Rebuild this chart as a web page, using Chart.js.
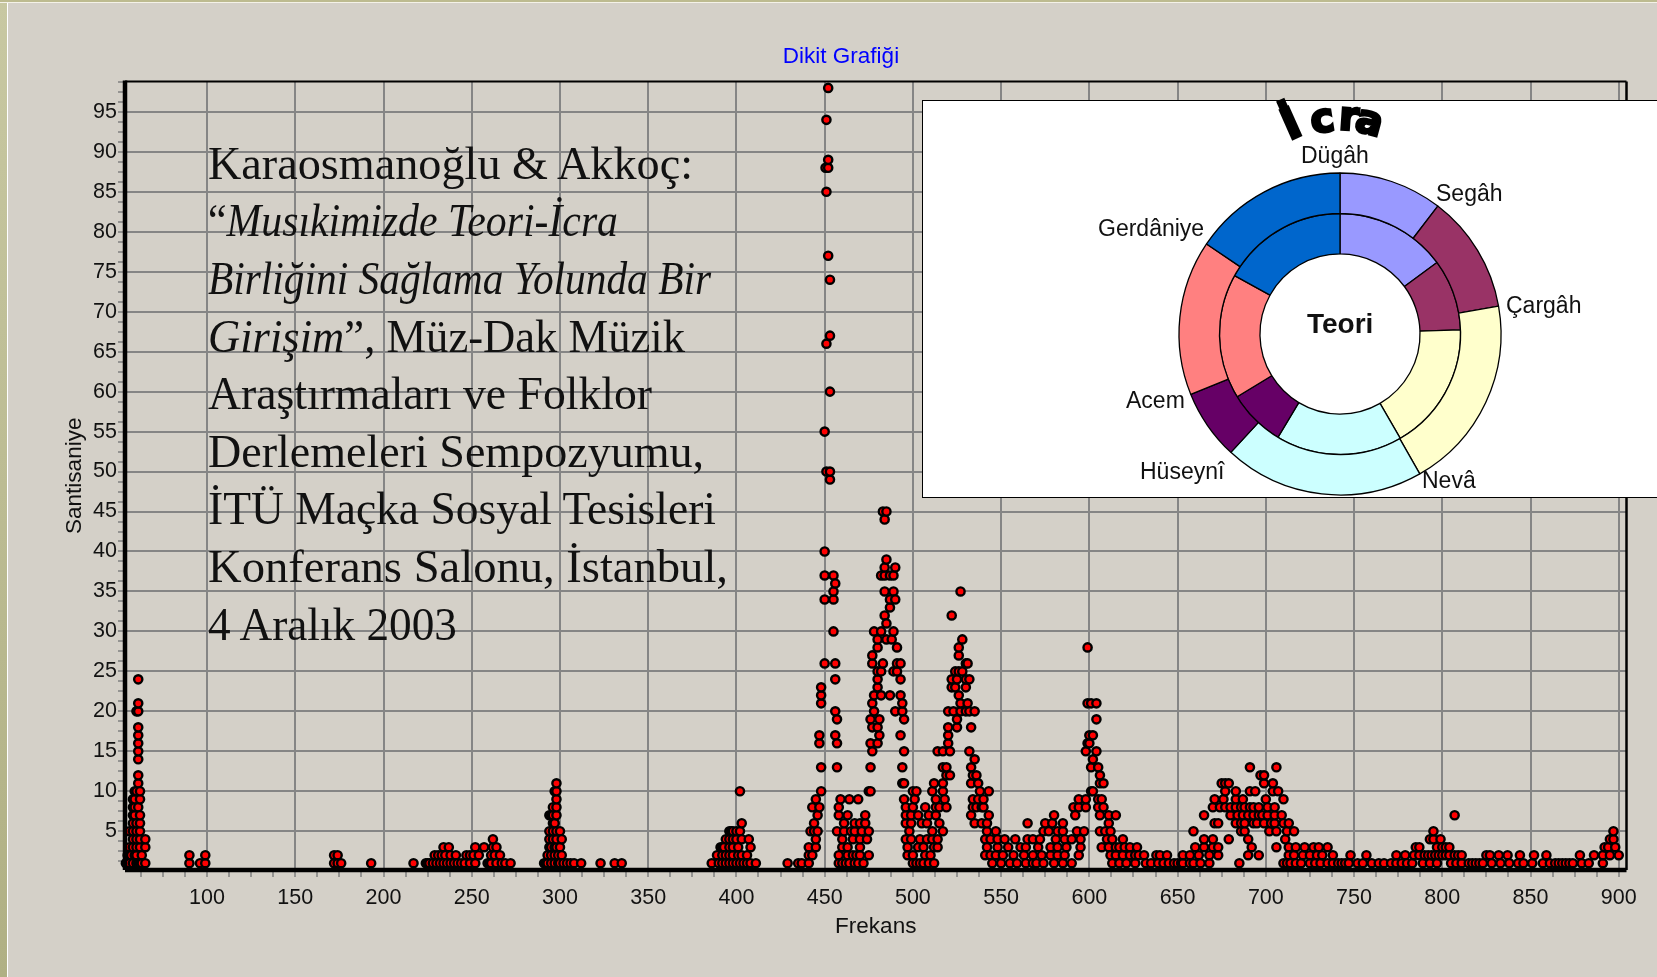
<!DOCTYPE html>
<html lang="tr">
<head>
<meta charset="utf-8">
<title>Dikit Grafiği</title>
<script src="https://cdn.jsdelivr.net/npm/chart.js@4"></script>
<style>
  html,body{margin:0;padding:0;width:1657px;height:977px;overflow:hidden;background:#D4D0C8;}
  #stage{position:relative;width:1657px;height:977px;overflow:hidden;}
  #stripL{position:absolute;left:0;top:0;width:6.5px;height:977px;background:linear-gradient(#c8c8a2,#b0b084);border-right:1px solid #fff;}
  #stripT{position:absolute;left:0;top:0;width:1657px;height:2px;background:#bdbb90;border-bottom:1px solid #f4f2e8;}
  #main{position:absolute;left:0;top:0;}
  .line{position:absolute;left:208px;white-space:nowrap;font:46px/58px "Liberation Serif",serif;color:#111;transform-origin:0 50%;}
  #inset{position:absolute;left:922px;top:100px;width:740px;height:396px;background:#fff;border:1.5px solid #000;}
  #ring{position:absolute;left:1169.5px;top:164px;}
  .lbl{position:absolute;font:23px/26px "Liberation Sans",sans-serif;color:#111;white-space:nowrap;transform:translateY(-50%);}
  .arc{position:absolute;font:bold 40px/40px "DejaVu Sans",sans-serif;color:#000;-webkit-text-stroke:2.6px #000;transform-origin:50% 50%;}
</style>
</head>
<body>
<div id="stage">
  <canvas id="main" width="1657" height="977"></canvas>
  <div id="stripL"></div><div id="stripT"></div>
  <div id="text"></div>
  <div id="inset"></div>
  <canvas id="ring" width="340" height="340"></canvas>
  <div id="ringText"></div>
</div>
<script>
// ---- scatter values: for each Santisaniye level, the Frekans values
const y1=[54,56,58,60,61,62,63,65,90,96,99,172,174,176,193,217,224,225,226,228,230,232,234,236,238,240,242,244,246,249,252,259,260,261,264,267,269,272,291,292,293,295,297,299,300,302,304,306,308,312,323,331,335,386,390,392,394,396,398,400,402,404,406,408,411,429,435,437,441,458,460,462,464,467,469,472,500,502,504,506,509,512,545,550,555,559,564,568,570,574,580,585,590,613,617,621,626,632,635,639,642,645,648,650,652,653,657,659,663,668,685,710,712,714,717,720,725,728,731,735,738,741,743,745,747,752,755,760,764,767,771,774,777,780,783,789,793,797,805,808,811,815,817,819,821,823,828,833,838,843,846,851,857,861,864,866,868,870,872,874,879,883,891];
const y2=[55,57,59,60,63,90,99,172,174,229,231,233,235,238,241,247,249,251,254,261,263,266,293,295,297,299,301,389,392,394,396,398,401,403,406,441,443,458,463,466,468,470,475,497,500,507,510,541,544,547,551,557,563,568,573,578,582,586,594,612,615,619,623,626,628,631,638,640,644,653,657,662,668,673,690,696,713,716,721,725,729,732,738,748,757,774,779,784,787,790,792,794,796,798,800,802,804,807,809,811,825,827,832,837,844,852,859,878,886,891,895,900];
const y3=[56,58,60,62,65,234,237,252,257,262,264,294,295,297,298,300,391,392,393,396,398,401,408,441,445,460,463,470,497,503,506,512,514,542,548,554,561,564,571,578,582,587,595,607,611,615,617,620,623,627,660,665,670,673,692,706,713,717,722,727,730,735,785,787,797,800,802,804,892,894,898];
const y4=[58,60,62,65,262,294,296,298,301,394,396,398,400,403,407,445,460,466,470,474,496,499,504,508,511,514,541,544,548,552,558,565,568,572,581,586,590,595,610,613,619,665,670,679,690,711,793,795,799,895,897];
const y5=[56,58,60,62,294,296,298,300,396,397,398,400,402,442,444,446,457,461,465,467,471,475,498,511,517,542,547,574,577,582,585,593,597,606,609,612,659,686,688,702,706,712,716,795,897];
const y6=[58,60,62,296,297,403,444,461,467,470,473,496,499,505,508,515,535,539,542,565,575,579,585,611,671,673,683,686,688,693,695,699,703,705,710,713];
const y7=[58,59,62,294,295,296,298,446,458,463,473,496,499,503,509,513,533,543,580,592,606,611,615,665,680,684,687,690,693,696,698,701,705,709,807];
const y8=[58,59,61,296,298,443,447,458,496,500,507,513,515,519,534,536,539,540,591,594,598,605,608,670,674,677,680,683,686,688,691,693,696,701,705];
const y9=[58,59,62,298,445,459,464,469,495,501,513,518,534,537,540,594,598,605,607,671,676,683,687,700,710];
const y10=[59,60,62,297,298,402,448,475,476,500,502,511,517,538,543,601,602,677,683,691,694,704,707];
const y11=[61,298,494,495,512,517,533,537,606,608,675,677,679,699,704];
const y12=[61,519,521,534,536,606,697,699];
const y13=[448,457,476,494,517,519,533,601,605,691,706];
const y14=[61,535,602];
const y15=[61,477,495,514,517,521,532,598,604];
const y16=[61,447,457,476,480,520,599,600];
const y17=[61,447,456,481,493,520,600,602];
const y18=[61,477,480,520,525,533];
const y19=[457,476,481,495,525,604];
const y20=[60,61,456,478,490,494,520,523,527,530,532,535];
const y21=[61,448,477,494,527,531,599,601,604];
const y22=[448,478,482,487,493,526];
const y23=[448,480,522,524,530];
const y24=[61,456,480,493,522,525,530,532];
const y25=[480,482,489,491,524,526,528];
const y26=[450,456,477,483,491,493,530,531];
const y27=[477,526];
const y28=[480,491,526,599];
const y29=[480,485,488,528];
const y30=[455,478,482,489];
const y31=[485];
const y32=[484,522];
const y33=[487];
const y34=[450,455,487,490];
const y35=[455,484,489,527];
const y36=[456];
const y37=[450,455,482,484,487,489];
const y38=[484,490];
const y39=[485];
const y40=[450];
const y44=[484];
const y45=[483,485];
const y49=[453];
const y50=[451,453];
const y55=[450];
const y60=[453];
const y66=[451];
const y67=[453];
const y74=[453];
const y77=[452];
const y85=[451];
const y88=[450.5,452];
const y89=[452];
const y94=[451];
const y98=[452];
const levels=[[1,y1],[2,y2],[3,y3],[4,y4],[5,y5],[6,y6],[7,y7],[8,y8],[9,y9],[10,y10],[11,y11],[12,y12],[13,y13],[14,y14],[15,y15],[16,y16],[17,y17],[18,y18],[19,y19],[20,y20],[21,y21],[22,y22],[23,y23],[24,y24],[25,y25],[26,y26],[27,y27],[28,y28],[29,y29],[30,y30],[31,y31],[32,y32],[33,y33],[34,y34],[35,y35],[36,y36],[37,y37],[38,y38],[39,y39],[40,y40],[44,y44],[45,y45],[49,y49],[50,y50],[55,y55],[60,y60],[66,y66],[67,y67],[74,y74],[77,y77],[85,y85],[88,y88],[89,y89],[94,y94],[98,y98]];

// ---- axis ticks
const xMinor=12.5, xMajor=50, yMinor=1.25, yMajor=5;
const xMin=53.5, xMax=904.4, yMin=0.15, yMax=98.8;
const chartTitle="Dikit Grafiği", xTitle="Frekans", yTitle="Santisaniye";

const notes=["Dügâh","Segâh","Çargâh","Nevâ","Hüseynî","Acem","Gerdâniye"];
const teori=[53.6,34.4,62,61,27.6,60.4,61];
const icra=[37.4,42.6,70.3,72.4,25.3,56,56];
const noteColors=["#9999FF","#993366","#FFFFCC","#CCFFFF","#660066","#FF8080","#0066CC"];
const ringNoteLabels=[["Dügâh",1301,155],["Segâh",1436,192.5],["Çargâh",1506,305],["Nevâ",1422,480],["Hüseynî",1140,470.5],["Acem",1126,400],["Gerdâniye",1098,228]];

// ---- text block
const citeLines=[
 [[ "Karaosmanoğlu & Akkoç:",0]],
 [[ "“",0],["Musıkimizde Teori-İcra",1]],
 [[ "Birliğini Sağlama Yolunda Bir",1]],
 [[ "Girişim",1],["”, Müz-Dak Müzik",0]],
 [[ "Araştırmaları ve Folklor",0]],
 [[ "Derlemeleri Sempozyumu,",0]],
 [[ "İTÜ Maçka Sosyal Tesisleri",0]],
 [[ "Konferans Salonu, İstanbul,",0]],
 [[ "4 Aralık 2003",0]]
];
const citeWidths=[485,410,503,477,444,496,508,520,249];

const points=[];
levels.forEach(([y,xs])=>xs.forEach(x=>points.push({x,y})));
points.sort((a,b)=>a.x-b.x);

const multiples=(step,lo,hi)=>{const o=[];for(let v=step;v<=hi;v+=step) if(v>=lo) o.push({value:v});return o;};
const GRID="#858585";
const FONT={family:'"Liberation Sans",Arial,sans-serif',size:21.5};
const TFONT={family:'"Liberation Sans",Arial,sans-serif',size:22.5};

const frame={id:'frame',afterDatasetsDraw(c){
  const a=c.chartArea,g=c.ctx;g.save();g.strokeStyle='#000';
  g.lineWidth=2;g.beginPath();g.moveTo(a.left,a.top);g.lineTo(a.right,a.top);g.stroke();
  g.lineWidth=2.5;g.beginPath();g.moveTo(a.right,a.top);g.lineTo(a.right,a.bottom);g.stroke();
  g.lineWidth=4.5;g.beginPath();g.moveTo(a.left,a.top-1);g.lineTo(a.left,a.bottom);g.stroke();
  g.beginPath();g.moveTo(a.left,a.bottom);g.lineTo(a.right,a.bottom);g.stroke();
  g.restore();
}};

new Chart(document.getElementById('main'),{
  type:'scatter',
  data:{datasets:[{data:points,showLine:false,pointRadius:4.1,pointBorderWidth:2.4,pointBackgroundColor:'#FF0000',pointBorderColor:'#000',clip:false}]},
  plugins:[frame],
  options:{
    responsive:false,animation:false,
    layout:{padding:{left:55.5,right:30.5,top:0,bottom:37}},
    plugins:{
      legend:{display:false},tooltip:{enabled:false},
      title:{display:true,text:chartTitle,color:'#0000FF',font:{...TFONT,weight:'normal'},padding:{top:43,bottom:11.5}}
    },
    scales:{
      x:{type:'linear',min:xMin,max:xMax,
        afterBuildTicks(s){s.ticks=multiples(xMinor,xMin,xMax);},
        afterFit(s){s.height=70;},
        grid:{color:c=>c.tick&&c.tick.value%xMajor===0?GRID:'rgba(0,0,0,0)',lineWidth:2,tickColor:GRID,tickLength:7,tickWidth:1.6,drawTicks:true},
        border:{display:false},
        ticks:{autoSkip:false,maxRotation:0,color:'#111',font:FONT,padding:8,callback:v=>v%xMajor===0?String(v):''},
        title:{display:true,text:xTitle,color:'#111',font:TFONT,padding:{top:2,bottom:0}}
      },
      y:{type:'linear',min:yMin,max:yMax,
        afterBuildTicks(s){s.ticks=multiples(yMinor,yMin,yMax);},
        afterFit(s){s.width=69.5;},
        grid:{color:c=>c.tick&&c.tick.value%yMajor===0?GRID:'rgba(0,0,0,0)',lineWidth:2,tickColor:GRID,tickLength:7,tickWidth:1.6,drawTicks:true},
        border:{display:false},
        ticks:{autoSkip:false,color:'#111',font:FONT,padding:1,callback:v=>v%yMajor===0?String(v):''},
        title:{display:true,text:yTitle,color:'#111',font:TFONT,padding:{top:6,bottom:0}}
      }
    }
  }
});

new Chart(document.getElementById('ring'),{
  type:'doughnut',
  data:{labels:notes,datasets:[
    {label:'İcra',data:icra,backgroundColor:noteColors,borderColor:'#000',borderWidth:1.3,borderAlign:'center'},
    {label:'Teori',data:teori,backgroundColor:noteColors,borderColor:'#000',borderWidth:1.3,borderAlign:'center'}
  ]},
  options:{responsive:false,animation:false,radius:161,cutout:84.2,layout:{padding:0},
    plugins:{legend:{display:false},tooltip:{enabled:false}}}
});

// text layers
const textBox=document.getElementById('text');
citeLines.forEach((parts,i)=>{
  const d=document.createElement('div');d.className='line';d.style.top=(134.7+i*57.6)+'px';
  parts.forEach(([t,it])=>{const s=document.createElement('span');s.textContent=t;if(it)s.style.fontStyle='italic';d.appendChild(s);});
  textBox.appendChild(d);
  const w=d.getBoundingClientRect().width;
  d.style.transform='scaleX('+(citeWidths[i]/w)+')';
});
const rt=document.getElementById('ringText');
ringNoteLabels.forEach(([t,x,y])=>{const s=document.createElement('div');s.className='lbl';s.textContent=t;s.style.left=x+'px';s.style.top=y+'px';rt.appendChild(s);});
const teoriEl=document.createElement('div');teoriEl.className='lbl';teoriEl.textContent='Teori';teoriEl.style.cssText='left:1307px;top:323.5px;font:bold 28px/30px "Liberation Sans",sans-serif;';rt.appendChild(teoriEl);
[["İ",1291,124,-24,"font-size:42px;-webkit-text-stroke:3.4px #000"],["c",1322,118,-9,""],["r",1349,116,4,""],["a",1370,120,15,""]].forEach(([t,x,y,r,extra])=>{
  const s=document.createElement('div');s.className='arc';s.textContent=t;s.style.cssText=extra;
  s.style.left=x+'px';s.style.top=y+'px';s.style.transform='translate(-50%,-50%) rotate('+r+'deg)';rt.appendChild(s);
});
</script>
</body>
</html>
